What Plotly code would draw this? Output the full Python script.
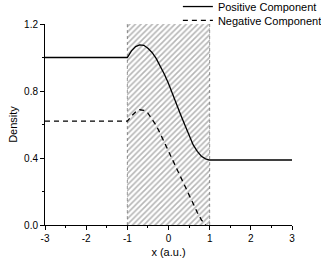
import plotly.graph_objects as go

# Data
pos_x = [-3, -1, -0.9, -0.8, -0.7, -0.6, -0.5, -0.4, -0.3, -0.2, -0.1, 0.0, 0.1, 0.2, 0.3, 0.4, 0.5, 0.6, 0.7, 0.8, 0.9, 1.0, 3]
pos_y = [1.0, 1.0, 1.04, 1.065, 1.075, 1.073, 1.055, 1.03, 0.995, 0.95, 0.90, 0.845, 0.778, 0.715, 0.655, 0.595, 0.535, 0.478, 0.44, 0.41, 0.395, 0.388, 0.388]

neg_x = [-3, -1, -0.9, -0.8, -0.7, -0.6, -0.5, -0.4, -0.3, -0.2, -0.1, 0.0, 0.1, 0.2, 0.3, 0.4, 0.5, 0.6, 0.7, 0.8, 0.9]
neg_y = [0.62, 0.62, 0.65, 0.675, 0.688, 0.685, 0.668, 0.635, 0.595, 0.545, 0.492, 0.44, 0.387, 0.334, 0.28, 0.23, 0.18, 0.125, 0.075, 0.03, 0.0]

region_x = [-1, 1]
region_top = 1.2

x_ticks = [-3, -2, -1, 0, 1, 2, 3]
y_ticks = [0.0, 0.4, 0.8, 1.2]
y_tick_labels = ["0.0", "0.4", "0.8", "1.2"]

FONT = "Liberation Sans, Arial, sans-serif"

fig = go.Figure()

fig.add_trace(go.Bar(
    x=[(region_x[0] + region_x[1]) / 2], y=[region_top],
    width=[region_x[1] - region_x[0]],
    marker=dict(color="rgba(0,0,0,0)", line=dict(width=0),
                pattern=dict(shape="/", fgcolor="#6e6e6e", bgcolor="rgba(0,0,0,0)",
                             size=4, solidity=0.4)),
    showlegend=False, hoverinfo="skip",
))

for xv in region_x:
    fig.add_shape(type="line", x0=xv, x1=xv, y0=0, y1=region_top, xref="x", yref="y",
                  line=dict(color="#999999", width=1, dash="dot"), layer="below")

fig.add_trace(go.Scatter(x=pos_x, y=pos_y, mode="lines", name="Positive Component",
                         line=dict(color="black", width=1.3), legend="legend"))
fig.add_trace(go.Scatter(x=neg_x, y=neg_y, mode="lines", name="Negative Component",
                         line=dict(color="black", width=1.3, dash="5px,4px"), legend="legend2"))

leg_common = dict(xanchor="left", yanchor="top", bgcolor="rgba(0,0,0,0)",
                  font=dict(size=11), itemwidth=30)

fig.update_layout(
    width=321, height=260,
    margin=dict(l=45, r=29, t=24, b=35, autoexpand=False),
    paper_bgcolor="white", plot_bgcolor="white",
    font=dict(family=FONT, size=10, color="black"),
    showlegend=True,
    legend=dict(x=0.538, y=1.159, **leg_common),
    legend2=dict(x=0.538, y=1.09, **leg_common),
    bargap=0,
)

fig.update_xaxes(
    range=[-3, 3], tickvals=x_ticks, ticktext=[str(v) for v in x_ticks],
    showgrid=False, zeroline=False, showline=True, linecolor="black", linewidth=1,
    ticks="outside", ticklen=4, tickwidth=1, tickcolor="black",
    minor=dict(dtick=0.5, ticks="outside", ticklen=2, tickcolor="black", showgrid=False),
    title=dict(text="x (a.u.)", font=dict(size=11), standoff=5),
    automargin=False,
)
fig.update_yaxes(
    range=[0, 1.2], tickvals=y_ticks, ticktext=y_tick_labels,
    showgrid=False, zeroline=False, showline=True, linecolor="black", linewidth=1,
    ticks="outside", ticklen=4, tickwidth=1, tickcolor="black",
    minor=dict(dtick=0.2, ticks="outside", ticklen=2, tickcolor="black", showgrid=False),
    title=dict(text="Density", font=dict(size=11), standoff=4),
    automargin=False,
)

fig.write_html("out.html", config={"displayModeBar": False},
               post_script="document.body.style.margin='0';")
